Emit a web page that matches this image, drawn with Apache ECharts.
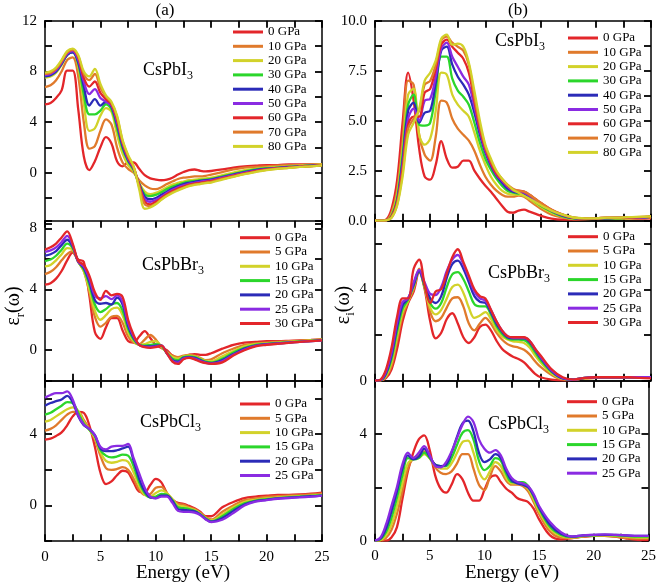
<!DOCTYPE html>
<html><head><meta charset="utf-8">
<script src="https://cdn.jsdelivr.net/npm/echarts@6/dist/echarts.min.js"></script>
<style>html,body{margin:0;padding:0;background:#fff}#c{width:659px;height:583px}</style>
</head><body><div id="c"></div>
<script>
const energy = [0,0.5,1,1.5,2,2.5,3,3.5,4,4.5,5,5.5,6,6.5,7,7.5,8,8.5,9,9.5,10,10.5,11,11.5,12,12.5,13,13.5,14,14.5,15,16,17,18,19,20,21,22,23,24,25];

const pressI = ['0 GPa','10 GPa','20 GPa','30 GPa','40 GPa','50 GPa','60 GPa','70 GPa','80 GPa'];
const pressBr = ['0 GPa','5 GPa','10 GPa','15 GPa','20 GPa','25 GPa','30 GPa'];
const pressCl = ['0 GPa','5 GPa','10 GPa','15 GPa','20 GPa','25 GPa'];

// (a) CsPbI3 real part
const rI0 = [5.4,5.5,5.9,6.5,8.05,8.05,5.0,1.3,0.2,0.9,2.0,2.8,2.3,0.9,0.5,0.8,0.8,0.3,-0.2,-0.45,-0.55,-0.6,-0.55,-0.4,-0.15,0.05,0.2,0.25,0.15,0.1,0.13,0.25,0.4,0.5,0.55,0.6,0.6,0.65,0.65,0.65,0.65];
const rI10 = [6.76,6.9,7.3,8.0,8.9,9.1,7.6,4.0,1.9,2.1,3.3,4.2,3.8,2.0,0.8,0.3,0.0,-0.6,-1.0,-1.25,-1.3,-1.15,-0.9,-0.7,-0.5,-0.4,-0.35,-0.3,-0.3,-0.25,-0.15,0.05,0.25,0.4,0.45,0.5,0.55,0.6,0.6,0.65,0.65];
const rI20 = [7.5,7.6,7.9,8.5,9.3,9.6,8.4,5.5,3.3,3.5,4.5,5.1,4.8,3.0,1.5,0.6,0.1,-0.8,-1.5,-1.7,-1.6,-1.4,-1.15,-0.95,-0.8,-0.7,-0.6,-0.55,-0.5,-0.45,-0.4,-0.2,0.0,0.2,0.3,0.4,0.45,0.5,0.55,0.6,0.65];
const rI30 = [7.6,7.7,8.0,8.6,9.3,9.5,8.6,6.2,4.6,4.6,4.9,5.4,5.0,3.5,1.9,0.9,0.2,-0.9,-1.7,-1.85,-1.75,-1.55,-1.3,-1.1,-0.95,-0.8,-0.7,-0.65,-0.6,-0.55,-0.5,-0.3,-0.1,0.1,0.25,0.35,0.4,0.45,0.5,0.55,0.6];
const rI40 = [7.6,7.7,8.0,8.6,9.3,9.5,8.7,6.8,5.3,5.8,5.3,5.6,5.2,3.8,2.1,1.0,0.3,-0.9,-1.9,-2.1,-2.0,-1.75,-1.5,-1.25,-1.05,-0.9,-0.8,-0.72,-0.66,-0.6,-0.55,-0.35,-0.15,0.05,0.2,0.3,0.38,0.45,0.5,0.55,0.6];
const rI50 = [7.7,7.8,8.1,8.7,9.4,9.6,8.9,7.2,6.2,6.6,5.9,5.6,5.3,4.0,2.3,1.1,0.35,-1.0,-2.1,-2.3,-2.15,-1.9,-1.6,-1.35,-1.15,-1.0,-0.88,-0.8,-0.72,-0.66,-0.6,-0.4,-0.2,0.0,0.15,0.28,0.36,0.42,0.48,0.53,0.6];
const rI60 = [7.8,7.9,8.2,8.8,9.5,9.7,9.1,7.5,6.8,7.2,6.3,5.8,5.4,4.2,2.4,1.2,0.4,-1.0,-2.3,-2.5,-2.3,-2.0,-1.7,-1.45,-1.25,-1.1,-0.95,-0.87,-0.8,-0.72,-0.66,-0.45,-0.25,-0.05,0.12,0.25,0.34,0.4,0.47,0.52,0.6];
const rI70 = [7.8,7.9,8.2,8.8,9.5,9.7,9.2,7.8,7.3,7.8,6.7,6.0,5.5,4.4,2.5,1.3,0.45,-1.1,-2.5,-2.65,-2.45,-2.1,-1.8,-1.55,-1.35,-1.18,-1.02,-0.93,-0.86,-0.78,-0.72,-0.5,-0.3,-0.1,0.08,0.22,0.32,0.38,0.45,0.5,0.58];
const rI80 = [7.9,8.0,8.3,8.9,9.6,9.8,9.3,8.0,7.6,8.2,7.0,6.1,5.6,4.5,2.6,1.4,0.5,-1.3,-2.85,-2.75,-2.5,-2.15,-1.85,-1.6,-1.4,-1.22,-1.07,-0.97,-0.9,-0.83,-0.78,-0.55,-0.33,-0.12,0.05,0.2,0.3,0.37,0.45,0.5,0.58];

// (b) CsPbI3 imaginary part
const iI0 = [0,0,0.05,0.6,2.0,4.9,7.4,6.0,3.6,2.2,2.05,2.8,3.98,3.1,2.65,2.7,3.0,3.0,2.5,2.1,1.75,1.45,1.1,0.75,0.45,0.4,0.5,0.55,0.45,0.35,0.25,0.1,0.05,0.05,0.08,0.1,0.1,0.1,0.12,0.1,0.12];
const iI10 = [0,0,0.02,0.4,1.5,4.0,7.0,6.8,4.3,3.3,3.0,4.2,6.0,5.9,5.1,4.6,4.3,4.0,3.5,2.8,2.2,1.8,1.5,1.3,1.2,1.2,1.25,1.2,1.0,0.8,0.6,0.3,0.15,0.08,0.08,0.1,0.12,0.12,0.12,0.12,0.15];
const iI20 = [0,0,0.02,0.3,1.3,3.6,6.3,6.6,4.3,3.8,4.1,5.5,7.4,7.3,6.3,5.8,5.5,5.2,4.4,3.5,2.8,2.2,1.8,1.5,1.35,1.3,1.3,1.25,1.1,0.9,0.7,0.4,0.2,0.1,0.1,0.12,0.12,0.12,0.12,0.15,0.2];
const iI30 = [0,0,0.02,0.25,1.1,3.3,5.8,6.3,4.8,4.75,4.9,6.5,8.2,8.2,7.1,6.5,6.2,5.8,4.9,3.9,3.1,2.55,2.1,1.75,1.5,1.4,1.35,1.3,1.15,0.95,0.75,0.45,0.22,0.12,0.1,0.12,0.12,0.12,0.15,0.15,0.2];
const iI40 = [0,0,0.02,0.2,1.0,3.0,5.5,5.9,4.9,5.4,5.5,6.9,8.5,8.7,7.8,7.2,6.8,6.3,5.4,4.3,3.4,2.75,2.25,1.9,1.6,1.45,1.4,1.35,1.2,1.0,0.8,0.5,0.25,0.13,0.1,0.12,0.12,0.15,0.15,0.15,0.2];
const iI50 = [0,0,0.02,0.2,0.9,2.8,5.1,5.6,5.0,6.0,6.1,7.2,8.6,8.9,8.2,7.7,7.2,6.8,5.7,4.5,3.5,2.85,2.3,2.0,1.7,1.5,1.45,1.4,1.25,1.05,0.85,0.5,0.28,0.14,0.1,0.12,0.14,0.15,0.15,0.15,0.2];
const iI60 = [0,0,0.02,0.2,0.9,2.6,4.8,5.2,5.2,6.4,6.6,7.6,8.8,9.05,8.7,8.4,8.1,7.4,6.0,4.6,3.6,2.9,2.35,2.05,1.75,1.55,1.5,1.45,1.3,1.1,0.9,0.55,0.3,0.15,0.12,0.12,0.15,0.15,0.15,0.18,0.2];
const iI70 = [0,0,0.02,0.15,0.8,2.4,4.6,5.1,5.5,6.8,7.0,7.8,9.0,9.2,8.9,8.7,8.5,7.8,6.2,4.8,3.7,3.0,2.45,2.1,1.8,1.6,1.5,1.45,1.3,1.1,0.9,0.55,0.3,0.15,0.12,0.12,0.15,0.15,0.18,0.18,0.22];
const iI80 = [0,0,0.02,0.15,0.75,2.2,4.3,4.9,5.6,7.0,7.4,8.0,9.1,9.3,8.8,8.85,8.7,7.9,6.5,5.0,3.8,3.1,2.5,2.1,1.8,1.55,1.4,1.25,1.1,0.95,0.78,0.5,0.3,0.16,0.12,0.12,0.15,0.15,0.18,0.2,0.22];

// CsPbBr3 real part
const rBr0 = [4.3,4.4,4.7,5.2,5.9,6.4,5.95,5.8,3.6,1.2,0.75,1.5,2.1,2.1,1.3,0.6,0.5,0.9,1.25,0.8,0.35,0.15,0.0,-0.35,-0.5,-0.4,-0.3,-0.25,-0.3,-0.3,-0.2,0.1,0.35,0.5,0.55,0.6,0.6,0.62,0.65,0.68,0.72];
const rBr5 = [5.0,5.15,5.45,5.9,6.3,6.5,5.8,5.2,3.8,2.2,1.55,1.8,2.2,2.25,1.8,0.9,0.5,0.4,0.7,1.0,0.7,0.2,-0.1,-0.35,-0.45,-0.35,-0.3,-0.35,-0.5,-0.65,-0.6,-0.2,0.1,0.35,0.45,0.5,0.55,0.6,0.62,0.65,0.7];
const rBr10 = [5.5,5.6,5.9,6.3,6.7,6.6,5.8,5.2,4.0,2.6,2.0,2.3,2.7,2.8,2.3,1.2,0.6,0.35,0.4,0.55,0.6,0.25,-0.15,-0.45,-0.55,-0.4,-0.35,-0.4,-0.55,-0.7,-0.72,-0.4,-0.05,0.25,0.4,0.45,0.5,0.55,0.6,0.65,0.7];
const rBr15 = [5.85,5.95,6.2,6.6,7.0,6.7,5.8,5.3,4.3,3.0,2.5,2.7,3.0,3.1,2.6,1.4,0.7,0.35,0.3,0.35,0.4,0.3,-0.2,-0.55,-0.65,-0.45,-0.4,-0.45,-0.6,-0.75,-0.8,-0.55,-0.15,0.15,0.35,0.42,0.48,0.52,0.58,0.62,0.68];
const rBr20 = [6.2,6.3,6.5,6.9,7.25,6.8,5.8,5.4,4.5,3.3,3.05,3.1,3.0,3.45,3.0,1.6,0.8,0.35,0.25,0.25,0.3,0.3,-0.2,-0.65,-0.75,-0.5,-0.45,-0.5,-0.65,-0.8,-0.85,-0.65,-0.25,0.1,0.3,0.4,0.45,0.5,0.55,0.6,0.65];
const rBr25 = [6.45,6.55,6.75,7.1,7.5,6.9,5.8,5.5,4.7,3.6,3.4,3.55,3.35,3.6,3.2,1.8,0.9,0.35,0.22,0.2,0.25,0.3,-0.2,-0.7,-0.82,-0.55,-0.48,-0.55,-0.7,-0.82,-0.88,-0.72,-0.3,0.05,0.28,0.38,0.44,0.5,0.55,0.6,0.65];
const rBr30 = [6.6,6.75,7.0,7.4,7.8,7.0,5.85,5.6,4.9,3.8,3.3,3.9,3.6,3.7,3.5,2.0,1.0,0.35,0.2,0.15,0.2,0.3,-0.2,-0.75,-0.9,-0.6,-0.5,-0.6,-0.75,-0.85,-0.9,-0.8,-0.35,0.0,0.25,0.35,0.42,0.48,0.55,0.6,0.65];

// CsPbBr3 imaginary part
const iBr0 = [0,0.01,0.12,0.5,1.4,2.6,3.4,3.9,4.75,4.0,2.6,1.85,2.1,2.7,2.95,2.5,1.9,1.65,1.9,2.35,2.45,2.2,1.75,1.4,1.2,1.05,0.95,0.8,0.55,0.3,0.15,0.05,0.02,0.05,0.1,0.12,0.12,0.12,0.12,0.12,0.12];
const iBr5 = [0,0.01,0.17,0.65,1.75,2.85,3.45,4.0,4.9,4.1,3.0,2.6,2.75,3.2,3.6,3.65,3.25,2.5,2.2,2.5,2.75,2.5,2.1,1.8,1.6,1.5,1.45,1.35,1.15,0.85,0.6,0.25,0.06,0.05,0.1,0.12,0.12,0.12,0.12,0.12,0.12];
const iBr10 = [0,0.01,0.22,0.8,1.95,3.0,3.5,4.1,4.85,4.1,3.2,2.9,3.1,3.6,4.1,4.2,3.85,3.2,2.75,2.85,3.0,2.7,2.25,1.95,1.8,1.72,1.7,1.65,1.45,1.1,0.8,0.32,0.08,0.05,0.1,0.12,0.12,0.15,0.15,0.15,0.15];
const iBr15 = [0,0.02,0.28,0.95,2.15,3.15,3.55,4.15,4.8,4.1,3.4,3.15,3.4,4.1,4.65,4.75,4.45,3.9,3.35,3.25,3.25,2.9,2.4,2.05,1.85,1.8,1.8,1.78,1.6,1.25,0.9,0.38,0.1,0.05,0.12,0.15,0.15,0.15,0.15,0.15,0.15];
const iBr20 = [0,0.02,0.33,1.1,2.35,3.3,3.6,4.2,4.8,4.2,3.6,3.4,3.7,4.5,5.1,5.25,4.9,4.3,3.7,3.45,3.4,3.0,2.5,2.15,1.9,1.85,1.85,1.85,1.7,1.35,1.0,0.42,0.1,0.05,0.12,0.15,0.15,0.15,0.15,0.15,0.15];
const iBr25 = [0,0.03,0.4,1.25,2.55,3.45,3.6,4.3,4.85,4.3,3.8,3.75,4.1,4.8,5.3,5.5,5.1,4.5,3.9,3.6,3.5,3.1,2.6,2.2,1.95,1.88,1.88,1.88,1.75,1.4,1.05,0.45,0.12,0.05,0.12,0.15,0.15,0.15,0.15,0.15,0.15];
const iBr30 = [0,0.05,0.5,1.45,2.8,3.6,3.6,4.9,5.3,4.2,3.4,3.9,4.0,4.7,5.4,5.75,5.2,4.6,4.0,3.7,3.6,3.1,2.6,2.2,1.95,1.9,1.9,1.9,1.75,1.4,1.1,0.5,0.15,0.05,0.12,0.15,0.15,0.15,0.15,0.12,0.1];

// CsPbCl3 real part
const rCl0 = [3.7,3.75,3.9,4.1,4.5,5.0,5.25,5.2,4.5,3.3,1.85,1.2,1.35,1.7,1.95,1.85,1.3,0.78,0.75,1.15,1.5,1.3,0.7,0.3,0.15,0.1,-0.02,-0.15,-0.35,-0.6,-0.6,-0.1,0.2,0.42,0.5,0.55,0.6,0.6,0.62,0.66,0.72];
const rCl5 = [4.2,4.3,4.5,4.8,5.1,5.25,5.25,4.8,4.3,3.7,2.8,2.1,2.0,2.05,2.15,2.0,1.5,0.9,0.6,0.65,1.0,1.05,0.7,0.35,0.1,0.05,-0.1,-0.2,-0.4,-0.65,-0.78,-0.35,0.0,0.3,0.4,0.48,0.52,0.55,0.58,0.62,0.66];
const rCl10 = [4.7,4.8,5.0,5.2,5.4,5.5,5.3,4.7,4.25,3.8,3.0,2.5,2.4,2.45,2.55,2.45,1.85,1.1,0.6,0.5,0.7,0.85,0.7,0.35,0.0,-0.05,-0.15,-0.25,-0.45,-0.7,-0.84,-0.5,-0.1,0.2,0.32,0.4,0.45,0.5,0.52,0.56,0.6];
const rCl15 = [5.1,5.2,5.4,5.6,5.8,5.75,5.2,4.6,4.25,3.9,3.1,2.8,2.7,2.75,2.85,2.8,2.2,1.3,0.7,0.45,0.5,0.65,0.6,0.3,-0.1,-0.15,-0.2,-0.3,-0.48,-0.72,-0.88,-0.6,-0.2,0.12,0.28,0.36,0.42,0.46,0.5,0.54,0.58];
const rCl20 = [5.6,5.75,5.85,5.95,6.15,5.8,5.0,4.5,4.3,3.95,3.2,3.05,3.05,3.1,3.2,3.3,2.5,1.5,0.8,0.45,0.42,0.55,0.55,0.25,-0.2,-0.25,-0.28,-0.33,-0.5,-0.76,-0.9,-0.7,-0.3,0.05,0.25,0.32,0.4,0.44,0.48,0.52,0.55];
const rCl25 = [6.05,6.2,6.3,6.3,6.4,5.95,5.05,4.55,4.3,3.95,3.3,3.15,3.3,3.35,3.35,3.45,2.65,1.8,1.0,0.5,0.4,0.5,0.5,0.15,-0.3,-0.35,-0.35,-0.4,-0.53,-0.78,-0.93,-0.8,-0.42,0.0,0.22,0.3,0.38,0.42,0.46,0.5,0.55];

// CsPbCl3 imaginary part
const iCl0 = [0,0,0,0.12,0.5,1.55,2.6,3.3,3.8,3.95,3.4,2.45,1.95,1.8,2.1,2.5,2.3,1.8,1.5,1.5,1.9,2.35,2.45,2.2,1.95,1.8,1.6,1.52,1.45,1.2,0.8,0.2,0.05,0.1,0.15,0.18,0.18,0.15,0.08,0.03,0.02];
const iCl5 = [0,0,0.1,0.4,1.0,1.85,2.7,3.1,3.2,3.35,3.1,2.75,2.55,2.5,2.6,2.9,3.25,3.25,2.7,2.1,1.9,2.4,2.8,2.6,2.25,2.1,2.1,2.05,1.85,1.45,1.0,0.35,0.12,0.1,0.15,0.18,0.18,0.15,0.1,0.08,0.08];
const iCl10 = [0,0.02,0.2,0.6,1.3,2.15,2.9,3.05,3.1,3.25,3.1,2.85,2.7,2.7,2.9,3.3,3.7,3.75,3.3,2.6,2.3,2.6,2.95,2.8,2.35,2.15,2.15,2.1,1.95,1.55,1.1,0.45,0.18,0.12,0.17,0.2,0.2,0.18,0.15,0.12,0.12];
const iCl15 = [0,0.05,0.32,0.85,1.6,2.45,3.1,3.05,3.1,3.3,3.1,2.85,2.8,2.8,3.1,3.6,4.05,4.15,3.8,3.0,2.65,2.8,3.1,3.0,2.5,2.2,2.2,2.2,2.05,1.65,1.2,0.52,0.22,0.14,0.18,0.2,0.22,0.2,0.18,0.15,0.15];
const iCl20 = [0,0.08,0.45,1.1,1.85,2.7,3.2,3.05,3.15,3.45,3.15,2.85,2.8,2.85,3.3,3.9,4.4,4.5,4.1,3.3,2.95,3.05,3.25,3.1,2.6,2.25,2.15,2.1,2.0,1.7,1.25,0.6,0.26,0.15,0.2,0.22,0.22,0.22,0.2,0.18,0.18];
const iCl25 = [0,0.12,0.6,1.3,2.0,2.85,3.3,3.1,3.3,3.55,3.2,2.8,2.75,2.95,3.35,3.85,4.35,4.65,4.45,3.8,3.45,3.3,3.4,3.2,2.7,2.35,2.2,2.15,2.05,1.75,1.3,0.7,0.32,0.16,0.2,0.22,0.24,0.22,0.2,0.18,0.18];

const RED='#e3262a', ORA='#e07a2c', YEL='#d2d22a', GRN='#2bd62b', BLU='#2b2bb8', PUR='#8a2be2';
const col9 = [RED,ORA,YEL,GRN,BLU,PUR,RED,ORA,YEL];
const col7 = [RED,ORA,YEL,GRN,BLU,PUR,RED];
const col6 = [RED,ORA,YEL,GRN,BLU,PUR];

const FONT = 'Liberation Serif';

const panels = [
  {id:'a1', names:pressI, vals:[rI0,rI10,rI20,rI30,rI40,rI50,rI60,rI70,rI80], cols:col9,
   grid:{left:45,top:20.7,width:277,height:202.6}, ymin:-4, ymax:12, step:2, lab:v=>(v>=0&&v%4===0)?String(v):'', hideBottom:true,
   leg:{left:233,top:25}},
  {id:'b1', names:pressI, vals:[iI0,iI10,iI20,iI30,iI40,iI50,iI60,iI70,iI80], cols:col9,
   grid:{left:375,top:20.7,width:276,height:200}, ymin:0, ymax:10, step:1.25, lab:v=>(Math.abs(v/2.5-Math.round(v/2.5))<1e-6)?v.toFixed(1):'',
   leg:{left:568,top:31}},
  {id:'a2', names:pressBr, vals:[rBr0,rBr5,rBr10,rBr15,rBr20,rBr25,rBr30], cols:col7,
   grid:{left:45,top:220.7,width:277,height:160}, ymin:-2, ymax:8.5, step:2, lab:v=>(v>=0&&v%4===0)?String(v):'',
   leg:{left:240,top:230.7}},
  {id:'b2', names:pressBr, vals:[iBr0,iBr5,iBr10,iBr15,iBr20,iBr25,iBr30], cols:col7,
   grid:{left:375,top:220.7,width:276,height:160}, ymin:0, ymax:7, step:2, lab:v=>(v%4===0)?String(v):'',
   leg:{left:568,top:229.7}},
  {id:'a3', names:pressCl, vals:[rCl0,rCl5,rCl10,rCl15,rCl20,rCl25], cols:col6,
   grid:{left:45,top:380.7,width:277,height:160.5}, ymin:-2, ymax:7, step:2, lab:v=>(v>=0&&v%4===0)?String(v):'',
   leg:{left:240,top:397}},
  {id:'b3', names:pressCl, vals:[iCl0,iCl5,iCl10,iCl15,iCl20,iCl25], cols:col6,
   grid:{left:375,top:380.7,width:276,height:160}, ymin:0, ymax:6, step:2, lab:v=>(v%4===0)?String(v):'',
   leg:{left:567,top:394.7}}
];

const axLine = {show:true, onZero:false, lineStyle:{color:'#000', width:1.5}};
const tick = {show:true, inside:true, length:7, lineStyle:{color:'#000', width:1.8}};
const grids=[], xAxes=[], yAxes=[], series=[], legends=[];

panels.forEach((p,g)=>{
  grids.push(Object.assign({containLabel:false}, p.grid));
  const bottomRow = g>=4;
  const hideB = !!p.hideBottom;
  xAxes.push({type:'value', gridIndex:g, position:'bottom', min:0, max:25, interval:2.5,
    axisLine:Object.assign({}, axLine, {show:!hideB}), axisTick:Object.assign({}, tick, {show:!hideB}), splitLine:{show:false},
    axisLabel:{show:bottomRow, margin:8, fontFamily:FONT, fontSize:15, color:'#000',
      formatter:v=>(v%5===0)?String(v):''}});
  xAxes.push({type:'value', gridIndex:g, position:'top', min:0, max:25, interval:2.5, axisLine:axLine,
    axisTick:tick, splitLine:{show:false}, axisLabel:{show:false}});
  yAxes.push({type:'value', gridIndex:g, position:'left', min:p.ymin, max:p.ymax, interval:p.step, axisLine:axLine,
    axisTick:tick, splitLine:{show:false},
    axisLabel:{show:true, margin:8, fontFamily:FONT, fontSize:15, color:'#000', formatter:p.lab, showMinLabel:true, showMaxLabel:true}});
  yAxes.push({type:'value', gridIndex:g, position:'right', min:p.ymin, max:p.ymax, interval:p.step, axisLine:axLine,
    axisTick:tick, splitLine:{show:false}, axisLabel:{show:false}});
  const names=[];
  p.names.forEach((nm,k)=>{
    const sname = p.id+'|'+nm;
    names.push(sname);
    series.push({type:'line', name:sname, xAxisIndex:2*g, yAxisIndex:2*g, smooth:0.35,
      symbol:'none', showSymbol:false, color:p.cols[k],
      lineStyle:{width:2.3, color:p.cols[k]}, itemStyle:{color:p.cols[k]},
      data: energy.map((e,i)=>[e, p.vals[k][i]])});
  });
  legends.push({data:names, orient:'vertical', left:p.leg.left, top:p.leg.top, icon:'rect',
    itemWidth:30, itemHeight:3, itemGap:0.3, selectedMode:false, padding:0,
    formatter:n=>n.split('|')[1],
    textStyle:{fontFamily:FONT, fontSize:13, lineHeight:14, color:'#000'}});
});

const rich = {a:{fontFamily:FONT, fontSize:18, lineHeight:24, color:'#000'},
              s:{fontFamily:FONT, fontSize:12, lineHeight:12, verticalAlign:'bottom', color:'#000'}};
const richN = {a:{fontFamily:FONT, fontSize:20, lineHeight:26, color:'#000'},
               s:{fontFamily:FONT, fontSize:13, lineHeight:13, verticalAlign:'bottom', color:'#000'}};
const txt = (x,y,text)=>({type:'text', x:x, y:y, style:{text:text, rich:rich,
  fontFamily:FONT, fontSize:18, fill:'#000', textAlign:'left', textVerticalAlign:'middle'}});

const graphics = [
  {type:'text', x:165, y:11, style:{text:'(a)', fontFamily:FONT, fontSize:17, fill:'#000', textAlign:'center', textVerticalAlign:'middle'}},
  {type:'text', x:518, y:11, style:{text:'(b)', fontFamily:FONT, fontSize:17, fill:'#000', textAlign:'center', textVerticalAlign:'middle'}},
  txt(143,70,'{a|CsPbI}{s|3}'),
  txt(495,41,'{a|CsPbI}{s|3}'),
  txt(142,265,'{a|CsPbBr}{s|3}'),
  txt(488,273,'{a|CsPbBr}{s|3}'),
  txt(140,422,'{a|CsPbCl}{s|3}'),
  txt(488,424,'{a|CsPbCl}{s|3}'),
  {type:'text', x:14, y:306, rotation:Math.PI/2, style:{text:'{a|ε}{s|r}{a|(ω)}', rich:richN, fill:'#000', textAlign:'center', textVerticalAlign:'middle'}},
  {type:'text', x:344, y:305, rotation:Math.PI/2, style:{text:'{a|ε}{s|i}{a|(ω)}', rich:richN, fill:'#000', textAlign:'center', textVerticalAlign:'middle'}},
  {type:'text', x:183, y:573, style:{text:'Energy (eV)', fontFamily:FONT, fontSize:19, fill:'#000', textAlign:'center', textVerticalAlign:'middle'}},
  {type:'text', x:512, y:573, style:{text:'Energy (eV)', fontFamily:FONT, fontSize:19, fill:'#000', textAlign:'center', textVerticalAlign:'middle'}}
];

const chart = echarts.init(document.getElementById('c'), null, {renderer:'canvas'});
chart.setOption({animation:false, backgroundColor:'#fff', grid:grids, xAxis:xAxes, yAxis:yAxes,
  series:series, legend:legends, graphic:graphics});
</script></body></html>
